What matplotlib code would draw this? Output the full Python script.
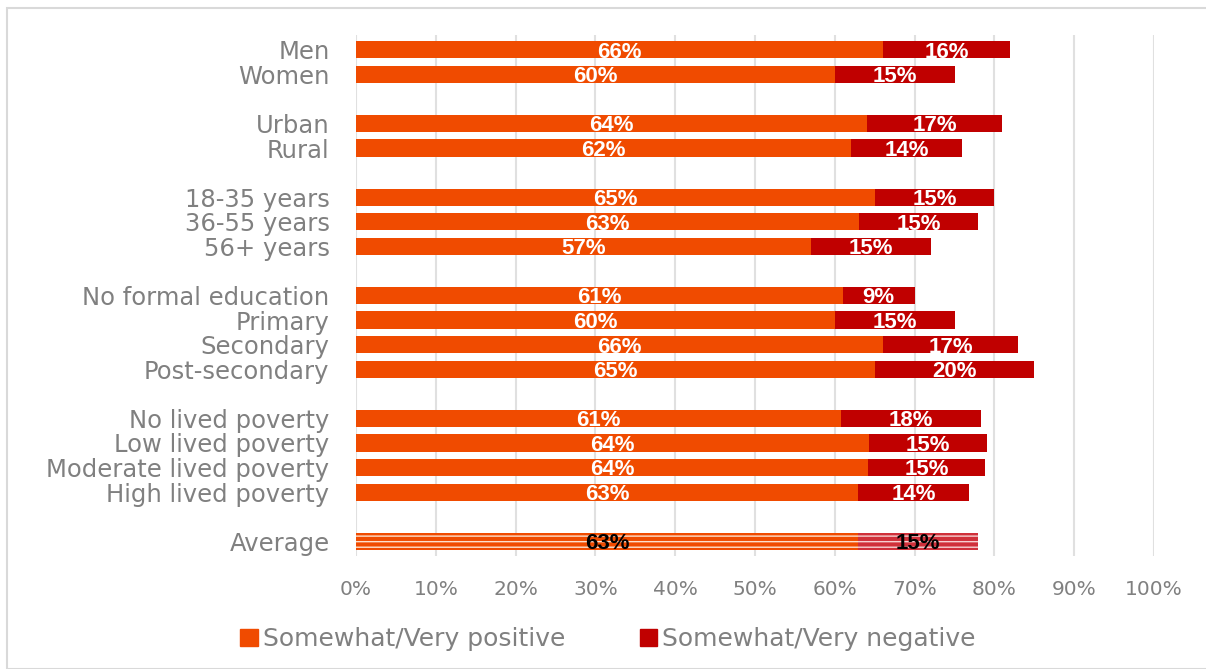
import numpy as np
import matplotlib.pyplot as plt
from matplotlib.patches import Rectangle, Patch

categories = ["Men", "Women", "", "Urban", "Rural", "",
              "18-35 years", "36-55 years", "56+ years", "",
              "No formal education", "Primary", "Secondary", "Post-secondary", "",
              "No lived poverty", "Low lived poverty", "Moderate lived poverty", "High lived poverty", "",
              "Average"]
positive = [66, 60, None, 64, 62, None, 65, 63, 57, None, 61, 60, 66, 65, None,
            60.8, 64.3, 64.2, 62.9, None, 62.9]
negative = [16, 15, None, 17, 14, None, 15, 15, 15, None, 9, 15, 17, 20, None,
            17.5, 14.8, 14.6, 13.9, None, 15.1]

c_pos = "#f04b00"
c_neg = "#c00000"
txt = "#808080"

fig = plt.figure(figsize=(12.06, 6.69), dpi=100)
fig.patches.append(Rectangle((7/1206, 0.0), 1.2, 1 - 8/669, transform=fig.transFigure,
                             fill=False, edgecolor="#d9d9d9", linewidth=1.5))
ax = fig.add_axes([356/1206, 1 - 556/669, 798/1206, (556 - 35)/669])

lab_font = "Liberation Sans"
for i, (p, n) in enumerate(zip(positive, negative)):
    if p is None:
        continue
    avg = categories[i] == "Average"
    if avg:
        ax.barh(i, p, height=0.7, color=c_pos, edgecolor="#fde0cc", hatch="---", linewidth=0)
        ax.barh(i, n, left=p, height=0.7, color="#d0303a", edgecolor="#f6d0d0", hatch="---", linewidth=0)
        tc = "black"
    else:
        ax.barh(i, p, height=0.7, color=c_pos)
        ax.barh(i, n, left=p, height=0.7, color=c_neg)
        tc = "white"
    ax.text(p / 2, i + 0.1, "%d%%" % round(p), ha="center", va="center", color=tc,
            fontsize=16, fontweight="bold", family=lab_font)
    ax.text(p + n / 2, i + 0.1, "%d%%" % round(n), ha="center", va="center", color=tc,
            fontsize=16, fontweight="bold", family=lab_font)

ax.set_xlim(0, 100)
ax.set_ylim(20.6, -0.6)
ax.set_xticks(np.arange(0, 101, 10))
ax.set_xticklabels(["%d%%" % v for v in range(0, 101, 10)], fontsize=14.5, color=txt, family="DejaVu Sans")
ax.set_yticks(range(len(categories)))
ax.set_yticklabels(categories, fontsize=17.5, color=txt, family="DejaVu Sans")
ax.tick_params(axis="both", length=0)
ax.tick_params(axis="x", pad=17)
ax.tick_params(axis="y", pad=19)
ax.grid(axis="x", color="#e0e0e0", linewidth=1.5)
ax.set_axisbelow(True)
for s in ax.spines.values():
    s.set_visible(False)

handles = [Patch(color=c_pos, label="Somewhat/Very positive"),
           Patch(color=c_neg, label="Somewhat/Very negative")]
fig.legend(handles=handles, loc="center", bbox_to_anchor=(608/1206, 1 - 639/669), ncol=2,
           frameon=False, prop={"family": "DejaVu Sans", "size": 18}, labelcolor=txt,
           handlelength=0.7, handleheight=0.7, handletextpad=0.2, columnspacing=3.0)

fig.savefig("out.png", dpi=100)
